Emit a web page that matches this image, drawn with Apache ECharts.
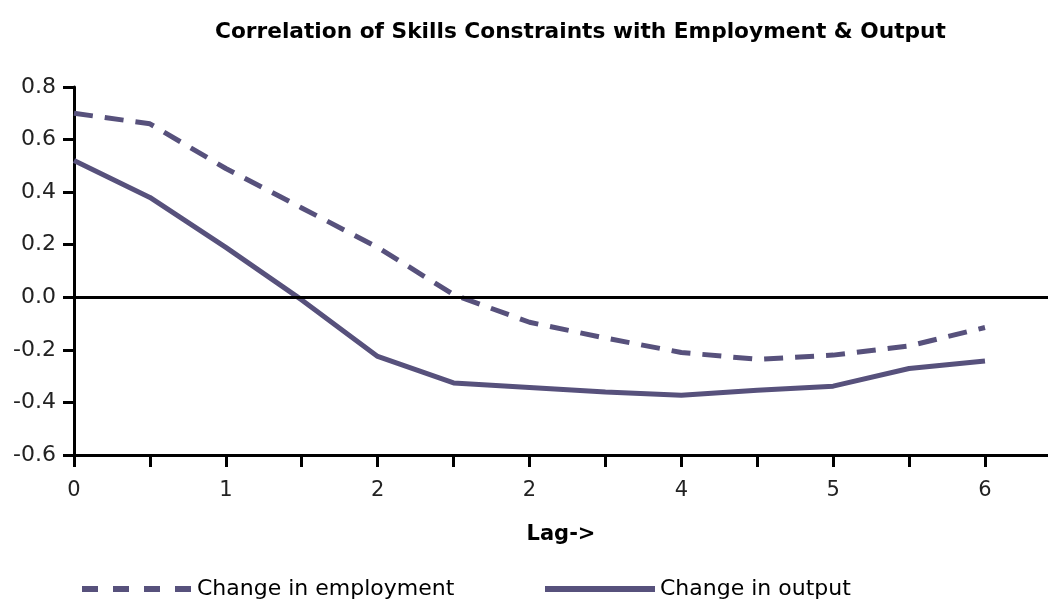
<!DOCTYPE html>
<html>
<head>
<meta charset="utf-8">
<script src="https://cdn.jsdelivr.net/npm/echarts@6/dist/echarts.min.js"></script>
<style>
  html, body { margin: 0; padding: 0; background: #fff; }
  #chart { width: 1048px; height: 603px; }
</style>
</head>
<body>
<div id="chart"></div>
<script>
// lag positions (one per tick) and the printed tick labels
const lags = [0, 1, 2, 3, 4, 5, 6, 7, 8, 9, 10, 11, 12];
const labelLags = [0, 2, 4, 6, 8, 10, 12];
const tickLabels = ['0', '1', '2', '2', '4', '5', '6'];

const employment = [0.70, 0.66, 0.49, 0.34, 0.19, 0.01, -0.095, -0.155, -0.21, -0.236, -0.22, -0.185, -0.115];
const output = [0.52, 0.38, 0.19, -0.01, -0.225, -0.326, -0.343, -0.36, -0.373, -0.354, -0.338, -0.271, -0.242];

const yTicks = { min: -0.6, max: 0.8, step: 0.2 };

const lineColor = '#57517c';
const font = 'DejaVu Sans';

function pairs(vals) {
  return lags.map((l, i) => [l, vals[i]]);
}

const legendBase = {
  top: 578,
  padding: 0,
  itemWidth: 110,
  itemHeight: 24,
  itemGap: 6,
  itemStyle: { opacity: 0 },
  textStyle: { fontFamily: font, fontSize: 22, color: '#000' }
};

const chart = echarts.init(document.getElementById('chart'));
chart.setOption({
  animation: false,
  title: {
    text: 'Correlation of Skills Constraints with Employment & Output',
    left: 210,
    top: 16,
    textStyle: { fontFamily: font, fontSize: 21.7, fontWeight: 'bold', color: '#000' }
  },
  legend: [
    Object.assign({}, legendBase, {
      data: ['Change in employment'],
      left: 79,
      lineStyle: { width: 6, type: [16, 15] }
    }),
    Object.assign({}, legendBase, {
      data: ['Change in output'],
      left: 542,
      lineStyle: { width: 6 }
    })
  ],
  grid: { left: 74, right: 0, top: 87, bottom: 148, outerBoundsMode: 'none' },
  xAxis: {
    type: 'value',
    min: 0,
    max: 12.83,
    interval: 1,
    name: 'Lag->',
    nameLocation: 'middle',
    nameGap: 69,
    nameTextStyle: { fontFamily: font, fontSize: 21, fontWeight: 'bold', color: '#000' },
    axisLine: { onZero: false, lineStyle: { color: '#000', width: 3 } },
    axisTick: { customValues: lags, length: 12, lineStyle: { color: '#000', width: 3 } },
    axisLabel: {
      customValues: labelLags,
      margin: 25,
      fontFamily: font,
      fontSize: 21,
      color: '#222',
      formatter: v => tickLabels[labelLags.indexOf(v)]
    },
    splitLine: { show: false }
  },
  yAxis: {
    type: 'value',
    min: yTicks.min,
    max: yTicks.max,
    interval: yTicks.step,
    axisLine: { show: true, lineStyle: { color: '#000', width: 3 } },
    axisTick: { show: true, length: 11, lineStyle: { color: '#000', width: 3 } },
    axisLabel: {
      margin: 18,
      fontFamily: font,
      fontSize: 22,
      color: '#222',
      formatter: v => v.toFixed(1)
    },
    splitLine: { show: false }
  },
  series: [
    {
      name: 'Change in employment',
      type: 'line',
      data: pairs(employment),
      symbol: 'none',
      color: lineColor,
      lineStyle: { color: lineColor, width: 5, type: [19, 12] },
      markLine: {
        silent: true,
        symbol: 'none',
        label: { show: false },
        lineStyle: { color: '#000', width: 3, type: 'solid' },
        data: [{ yAxis: 0 }]
      }
    },
    {
      name: 'Change in output',
      type: 'line',
      data: pairs(output),
      symbol: 'none',
      color: lineColor,
      lineStyle: { color: lineColor, width: 5 }
    }
  ]
});
</script>
</body>
</html>
